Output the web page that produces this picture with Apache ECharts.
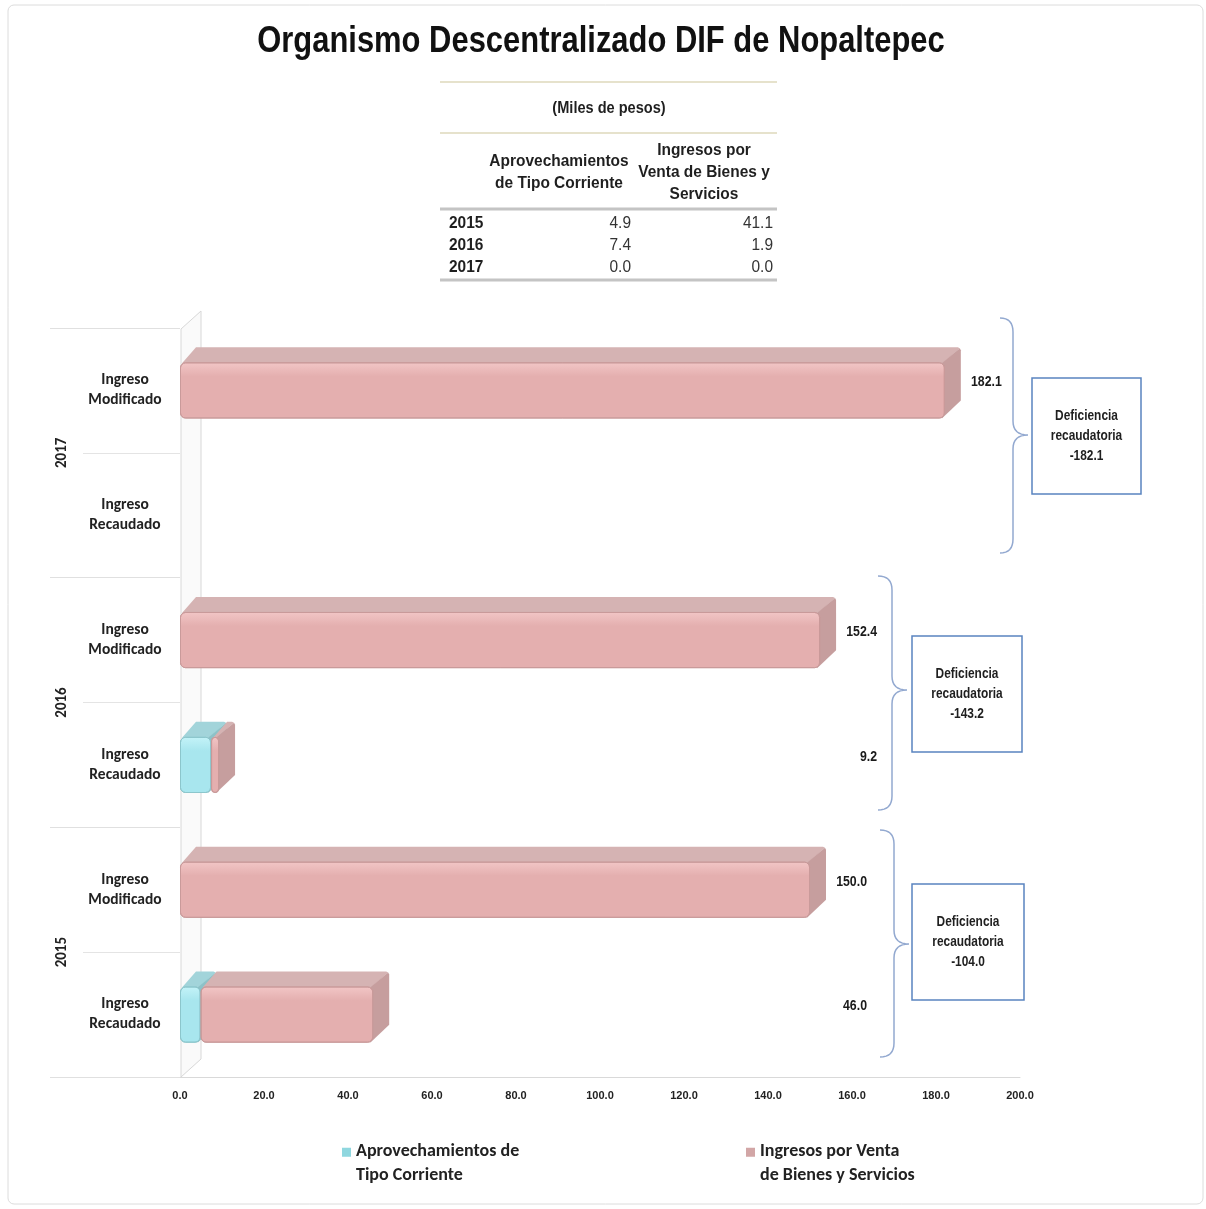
<!DOCTYPE html>
<html>
<head>
<meta charset="utf-8">
<script src="https://cdn.jsdelivr.net/npm/echarts@6/dist/echarts.min.js"></script>
<style>
html,body{margin:0;padding:0;background:#fff;}
#c{width:1206px;height:1209px;}
</style>
</head>
<body>
<div id="c"></div>
<script>
// ---- data ----
const years = ['2015', '2016', '2017'];
const rowNames = ['Ingreso\nRecaudado', 'Ingreso\nModificado'];
const aprovechamientos = [4.9, 7.4, 0.0];      // Aprovechamientos de Tipo Corriente (recaudado)
const ventaBienes = [41.1, 1.9, 0.0];          // Ingresos por Venta de Bienes y Servicios (recaudado)
const ingresoRecaudado = [46.0, 9.2, 0.0];     // total recaudado
const ingresoModificado = [150.0, 152.4, 182.1];
const seriesNames = ['Aprovechamientos de Tipo Corriente', 'Ingresos por Venta de Bienes y Servicios'];
const legendLines = ['Aprovechamientos de\nTipo Corriente', 'Ingresos por Venta\nde Bienes y Servicios'];
const tableTitle = '(Miles de pesos)';
const tableHeads = ['Aprovechamientos\nde Tipo Corriente', 'Ingresos por\nVenta de Bienes y\nServicios'];
const xMin = 0, xMax = 200, xStep = 20;
const titleText = 'Organismo Descentralizado DIF de Nopaltepec';

// ---- derived ----
const categories = [];
years.forEach(y => rowNames.forEach(r => categories.push(r)));
const cyanVals = [], pinkVals = [], totals = [], yearMax = [];
years.forEach((y, i) => {
  cyanVals.push(aprovechamientos[i], 0);
  pinkVals.push(ventaBienes[i], ingresoModificado[i]);
  totals.push(ingresoRecaudado[i], ingresoModificado[i]);
  const m = Math.max(ingresoModificado[i], ingresoRecaudado[i]);
  yearMax.push(m, m);
});
const nz = v => (v > 0 ? v : '-');

const SANS = '"Liberation Sans", Arial, sans-serif';
const CAL = 'Carlito, Calibri, Lato, sans-serif';

const PINK = {front0: '#f2c6c6', front1: '#e4afaf', top: '#d5b3b3', side: '#c69e9e', edge: '#c99a9a', legend: '#d2a6a6'};
const CYAN = {front0: '#c4f3f8', front1: '#a8e6ee', top: '#a2d4da', side: '#8dc2c8', edge: '#8cc6cc', legend: '#8fd7df'};

function grad(c0, c1) {
  return {type: 'linear', x: 0, y: 0, x2: 0, y2: 1, colorStops: [{offset: 0, color: c0}, {offset: 0.25, color: c1}, {offset: 1, color: c1}]};
}

// curly brace as sampled polyline
function quad(pts, p0, p1, p2) {
  for (let k = 1; k <= 8; k++) {
    const t = k / 8, u = 1 - t;
    pts.push([u * u * p0[0] + 2 * u * t * p1[0] + t * t * p2[0], u * u * p0[1] + 2 * u * t * p1[1] + t * t * p2[1]]);
  }
}
function bracePts(xL, y0, y1, spine, tipX, tipY, r) {
  const pts = [[xL, y0]];
  quad(pts, [xL, y0], [spine, y0], [spine, y0 + r]);
  pts.push([spine, tipY - r]);
  quad(pts, [spine, tipY - r], [spine, tipY], [tipX, tipY]);
  quad(pts, [tipX, tipY], [spine, tipY], [spine, tipY + r]);
  pts.push([spine, y1 - r]);
  quad(pts, [spine, y1 - r], [spine, y1], [xL, y1]);
  return pts;
}

function txt(x, y, text, font, align, scaleX, extra) {
  return {type: 'text', x: x, y: y, scaleX: scaleX,
    style: Object.assign({text: text, align: align, verticalAlign: 'middle', font: font, fill: '#1f1f1f'}, extra || {})};
}

const graphics = [];
graphics.push({type: 'rect', shape: {x: 8, y: 5, width: 1195, height: 1199, r: 6}, style: {fill: 'none', stroke: '#dcdcdc', lineWidth: 1}, silent: true});
graphics.push(txt(601, 42, titleText, 'bold 37px ' + SANS, 'center', 0.836, {fill: '#111'}));
graphics.push({type: 'polygon', shape: {points: [[181, 1077], [201, 1059], [201, 311], [181, 329]]}, style: {fill: '#fafafa', stroke: '#d8d8d8', lineWidth: 1}});

// table
const tL = 440, tR = 777;
[[82, '#e6e2cc', 2], [133, '#e6e2cc', 2], [209, '#c4c4c4', 3], [280, '#c4c4c4', 3]].forEach(l => {
  graphics.push({type: 'line', shape: {x1: tL, y1: l[0], x2: tR, y2: l[0]}, style: {stroke: l[1], lineWidth: l[2]}});
});
graphics.push(txt(609, 109, tableTitle, 'bold 16px ' + SANS, 'center', 0.91));
graphics.push(txt(559, 172, tableHeads[0], 'bold 17px ' + SANS, 'center', 0.91, {lineHeight: 22}));
graphics.push(txt(704, 172, tableHeads[1], 'bold 17px ' + SANS, 'center', 0.91, {lineHeight: 22}));
years.forEach((y, i) => {
  const yy = 223 + 22 * i;
  graphics.push(txt(449, yy, y, 'bold 17px ' + SANS, 'left', 0.91));
  graphics.push(txt(631, yy, aprovechamientos[i].toFixed(1), '17px ' + SANS, 'right', 0.91, {fill: '#333'}));
  graphics.push(txt(773, yy, ventaBienes[i].toFixed(1), '17px ' + SANS, 'right', 0.91, {fill: '#333'}));
});

// braces + deficiency boxes (2015, 2016, 2017)
const braceGeo = [
  {xL: 880, y0: 830, y1: 1057, spine: 894, tipX: 909, tipY: 944, box: [912, 884, 112, 116]},
  {xL: 878, y0: 576, y1: 810, spine: 892, tipX: 907, tipY: 690, box: [912, 636, 110, 116]},
  {xL: 1000, y0: 318, y1: 553, spine: 1013, tipX: 1028, tipY: 435, box: [1032, 378, 109, 116]}
];
braceGeo.forEach((g, i) => {
  graphics.push({type: 'polyline', shape: {points: bracePts(g.xL, g.y0, g.y1, g.spine, g.tipX, g.tipY, 14)}, style: {fill: null, stroke: '#93a9d0', lineWidth: 1.5}});
  const b = g.box;
  graphics.push({type: 'rect', shape: {x: b[0], y: b[1], width: b[2], height: b[3]}, style: {fill: '#fff', stroke: '#5a84c0', lineWidth: 1.5}});
  const def = (ingresoRecaudado[i] - ingresoModificado[i]).toFixed(1);
  graphics.push(txt(b[0] + b[2] / 2, b[1] + b[3] / 2, 'Deficiencia\nrecaudatoria\n' + def, 'bold 14px ' + SANS, 'center', 0.85, {lineHeight: 20}));
});

const legendIcon = 'path://M0,0L10,0L10,10L0,10Z M0,34L0.001,34L0.001,34.001Z';
const BAR_W = 0.45;
const legendText = {fontFamily: CAL, fontWeight: 'bold', fontSize: 18, lineHeight: 24, color: '#222'};

const option = {
  animation: false,
  backgroundColor: '#fff',
  grid: {left: 180, right: 186, top: 328, bottom: 132, containLabel: false},
  legend: [
    {data: [{name: seriesNames[0], itemStyle: {color: CYAN.legend, borderWidth: 0}}], left: 342, top: 1139, padding: 0,
      icon: legendIcon, itemWidth: 9, itemHeight: 34, itemStyle: {borderWidth: 0},
      formatter: () => legendLines[0], textStyle: legendText},
    {data: [{name: seriesNames[1], itemStyle: {color: PINK.legend, borderWidth: 0}}], left: 746, top: 1139, padding: 0,
      icon: legendIcon, itemWidth: 9, itemHeight: 34, itemStyle: {borderWidth: 0},
      formatter: () => legendLines[1], textStyle: legendText}
  ],
  xAxis: {type: 'value', min: xMin, max: xMax, interval: xStep,
    axisLine: {show: true, lineStyle: {color: '#d9d9d9', width: 1}},
    axisTick: {show: false}, splitLine: {show: false},
    axisLabel: {formatter: v => v.toFixed(1), margin: 13, fontFamily: SANS, fontWeight: 'bold', fontSize: 11, color: '#222'}},
  yAxis: [
    {type: 'category', data: categories, position: 'left',
      axisLine: {show: false},
      axisTick: {show: true, interval: 0, length: 97, lineStyle: {color: '#e4e4e4'}},
      axisLabel: {interval: 0, margin: 55, align: 'center', fontFamily: CAL, fontWeight: 'bold', fontSize: 15.5, lineHeight: 20, color: '#222'}},
    {type: 'category', data: years, position: 'left',
      axisLine: {show: false},
      axisTick: {show: true, interval: 0, length: 130, lineStyle: {color: '#e0e0e0'}},
      axisLabel: {interval: 0, rotate: 90, margin: 118, align: 'center', verticalAlign: 'middle', fontFamily: CAL, fontWeight: 'bold', fontSize: 15, color: '#222'}}
  ],
  series: [
    {name: seriesNames[0], type: 'bar', stack: 'total', barWidth: (BAR_W * 100) + '%', yAxisIndex: 0, z: 3,
      data: cyanVals.map(nz),
      itemStyle: {color: grad(CYAN.front0, CYAN.front1), borderColor: CYAN.edge, borderWidth: 1, borderRadius: 5}},
    {name: seriesNames[1], type: 'bar', stack: 'total', barWidth: (BAR_W * 100) + '%', yAxisIndex: 0, z: 3,
      data: pinkVals.map(nz),
      itemStyle: {color: grad(PINK.front0, PINK.front1), borderColor: PINK.edge, borderWidth: 1, borderRadius: 5}}
  ],
  graphic: graphics
};

const chart = echarts.init(document.getElementById('c'), null, {renderer: 'canvas'});
chart.setOption(option);

// 3D top/side faces and value labels, positioned through the chart's own scales
const extra = [];
const px = (v, c) => chart.convertToPixel({xAxisIndex: 0, yAxisIndex: 0}, [v, c]);
const band = Math.abs(px(0, 1)[1] - px(0, 0)[1]);
const h = band * BAR_W, dx = 16, dy = 15;
function faces(c, s, e, col) {
  if (!(e - s > 0)) return;
  const a = px(s, c), b = px(e, c);
  const x0 = a[0], x1 = b[0], yT = a[1] - h / 2, yB = a[1] + h / 2;
  const cx = x1 + dx - 1, cy = yT - dy + 1;
  extra.push({type: 'polygon', z: 1, shape: {points: [[x0 + 2, yT + 1], [x0 + dx, yT - dy], [cx - 2, yT - dy], [cx, cy], [x1 - 2, yT + 1]]}, style: {fill: col.top}});
  extra.push({type: 'polygon', z: 1, shape: {points: [[x1 - 3, yT + 1], [cx, cy], [cx + 1, cy + 2], [x1 + dx, yB - dy - 3], [x1 - 3, yB]]}, style: {fill: col.side}});
}
for (let c = 0; c < categories.length; c++) faces(c, 0, cyanVals[c], CYAN);
for (let c = 0; c < categories.length; c++) faces(c, cyanVals[c], cyanVals[c] + pinkVals[c], PINK);
for (let c = 0; c < categories.length; c++) {
  if (!(totals[c] > 0)) continue;
  const p = px(yearMax[c], c);
  extra.push(txt(p[0] + 57, p[1] - 8, totals[c].toFixed(1), 'bold 14px ' + SANS, 'right', 0.88, {fill: '#1a1a1a'}));
}
chart.setOption({graphic: graphics.concat(extra)});
</script>
</body>
</html>
